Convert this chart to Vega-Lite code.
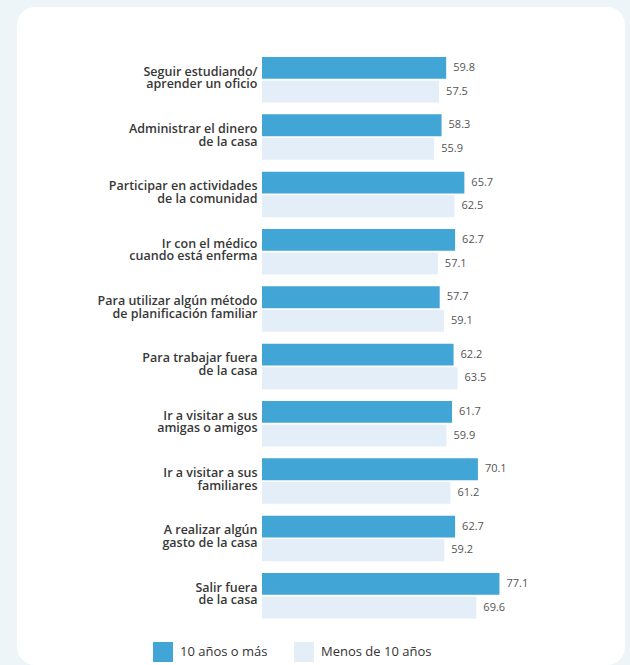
{
  "$schema": "https://vega.github.io/schema/vega-lite/v6.json",
  "width": 608,
  "height": 658,
  "autosize": {"type": "none"},
  "padding": {"left": 17, "top": 7, "right": 5, "bottom": 0},
  "background": "#edf5f9",
  "config": {
    "view": {"fill": "white", "cornerRadius": 18, "stroke": null},
    "font": "Open Sans"
  },
  "data": {
    "values": [
      {"cat": "Seguir estudiando/|aprender un oficio", "series": "10 años o más", "value": 59.8},
      {"cat": "Seguir estudiando/|aprender un oficio", "series": "Menos de 10 años", "value": 57.5},
      {"cat": "Administrar el dinero|de la casa", "series": "10 años o más", "value": 58.3},
      {"cat": "Administrar el dinero|de la casa", "series": "Menos de 10 años", "value": 55.9},
      {"cat": "Participar en actividades|de la comunidad", "series": "10 años o más", "value": 65.7},
      {"cat": "Participar en actividades|de la comunidad", "series": "Menos de 10 años", "value": 62.5},
      {"cat": "Ir con el médico|cuando está enferma", "series": "10 años o más", "value": 62.7},
      {"cat": "Ir con el médico|cuando está enferma", "series": "Menos de 10 años", "value": 57.1},
      {"cat": "Para utilizar algún método|de planificación familiar", "series": "10 años o más", "value": 57.7},
      {"cat": "Para utilizar algún método|de planificación familiar", "series": "Menos de 10 años", "value": 59.1},
      {"cat": "Para trabajar fuera|de la casa", "series": "10 años o más", "value": 62.2},
      {"cat": "Para trabajar fuera|de la casa", "series": "Menos de 10 años", "value": 63.5},
      {"cat": "Ir a visitar a sus|amigas o amigos", "series": "10 años o más", "value": 61.7},
      {"cat": "Ir a visitar a sus|amigas o amigos", "series": "Menos de 10 años", "value": 59.9},
      {"cat": "Ir a visitar a sus|familiares", "series": "10 años o más", "value": 70.1},
      {"cat": "Ir a visitar a sus|familiares", "series": "Menos de 10 años", "value": 61.2},
      {"cat": "A realizar algún|gasto de la casa", "series": "10 años o más", "value": 62.7},
      {"cat": "A realizar algún|gasto de la casa", "series": "Menos de 10 años", "value": 59.2},
      {"cat": "Salir fuera|de la casa", "series": "10 años o más", "value": 77.1},
      {"cat": "Salir fuera|de la casa", "series": "Menos de 10 años", "value": 69.6}
    ]
  },
  "encoding": {
    "y": {
      "field": "cat",
      "type": "nominal",
      "sort": null,
      "scale": {"range": [44.1, 617.4], "paddingInner": 0.206, "paddingOuter": 0.103},
      "axis": {
        "title": null,
        "orient": "left",
        "offset": -245,
        "ticks": false,
        "domain": false,
        "grid": false,
        "labelPadding": 5,
        "labelExpr": "split(datum.value, '|')",
        "labelFontSize": 12.5,
        "labelFontWeight": 600,
        "labelColor": "#383838",
        "labelLineHeight": 12.5,
        "labelOffset": -8,
        "labelAlign": "right",
        "labelBaseline": "middle"
      }
    },
    "yOffset": {
      "field": "series",
      "type": "nominal",
      "sort": ["10 años o más", "Menos de 10 años"],
      "scale": {"paddingInner": 0.08, "paddingOuter": 0}
    },
    "x": {
      "field": "value",
      "type": "quantitative",
      "scale": {"domain": [-79.55, 117.86], "nice": false, "zero": false},
      "axis": null
    }
  },
  "layer": [
    {
      "mark": {"type": "bar"},
      "encoding": {
        "x2": {"datum": 0},
        "color": {
          "field": "series",
          "type": "nominal",
          "scale": {"domain": ["10 años o más", "Menos de 10 años"], "range": ["#41a5d5", "#e4eef8"]},
          "legend": {
            "title": null,
            "orient": "none",
            "legendX": 136,
            "legendY": 635,
            "direction": "horizontal",
            "symbolType": "square",
            "symbolSize": 400,
            "symbolStrokeWidth": 0,
            "labelFontSize": 13,
            "labelColor": "#333333",
            "labelOffset": 7,
            "columnPadding": 26,
            "padding": 0
          }
        }
      }
    },
    {
      "mark": {"type": "text", "align": "left", "baseline": "middle", "dx": 7, "fontSize": 11, "color": "#555555"},
      "encoding": {
        "text": {"field": "value", "type": "quantitative", "format": ".1f"}
      }
    }
  ]
}
